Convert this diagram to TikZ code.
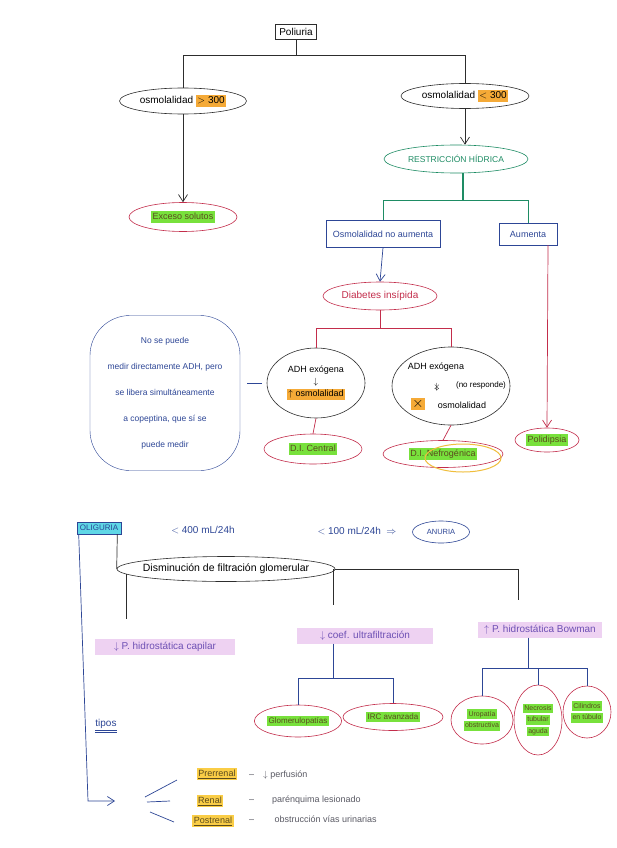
\documentclass[tikz,border=0pt]{standalone}
\usepackage{fontspec}
\setmainfont{Liberation Sans}
\usetikzlibrary{shapes.geometric,arrows.meta}
\definecolor{ink}{RGB}{45,45,45}
\definecolor{inkred}{RGB}{195,45,75}
\definecolor{inkteal}{RGB}{30,140,100}
\definecolor{inkblue}{RGB}{45,70,150}
\definecolor{hlgreen}{RGB}{120,225,60}
\definecolor{hlorange}{RGB}{245,170,55}
\definecolor{hlyellow}{RGB}{250,205,70}
\definecolor{hlpink}{RGB}{238,210,242}
\definecolor{hlcyan}{RGB}{95,215,230}
\definecolor{inkolive}{RGB}{90,75,30}
\definecolor{inkpurple}{RGB}{110,80,180}
\definecolor{inkgray}{RGB}{90,90,100}
\definecolor{ringorange}{RGB}{240,190,60}
\newcommand\hlc[2]{{\setlength{\fboxsep}{1.5pt}\colorbox{#1}{#2\vphantom{Ay}}}}
\begin{document}
\begin{tikzpicture}[x=1pt,y=-1pt,
  every node/.style={font=\fontsize{9}{11}\selectfont, inner sep=2pt},
  pen/.style={draw=ink, line width=0.7pt},
  oval/.style={ellipse, draw, line width=0.6pt, inner sep=0pt},
  arr/.style={-{Straight Barb[length=7pt,width=9pt]}},
  big/.style={font=\fontsize{10}{12}\selectfont},
  small/.style={font=\fontsize{8}{9.5}\selectfont},
  tiny/.style={font=\fontsize{7}{8.5}\selectfont},
  pinkhl/.style={text=inkpurple, fill=hlpink, inner sep=3pt, font=\fontsize{10}{12}\selectfont},
  greenoval/.style={oval, draw=inkred, text=inkolive},
  ]
\fill[white] (0,0) rectangle (616,848);
\useasboundingbox (0,0) rectangle (616,848);

% ---------- top part ----------
\node[draw=ink, line width=0.7pt, inner sep=4pt, big] (pol) at (296,32) {Poliuria};
\node[oval, draw=ink, big, minimum width=127, minimum height=26] (om1) at (183,101) {osmolalidad \hlc{hlorange}{$>$ 300}};
\node[oval, draw=ink, big, minimum width=128, minimum height=25] (om2) at (465,96) {osmolalidad \hlc{hlorange}{$<$ 300}};
\node[greenoval, minimum width=108, minimum height=29] (exc) at (183,217) {\hlc{hlgreen}{Exceso solutos}};
\node[oval, draw=inkteal, text=inkteal, minimum width=144, minimum height=28, font=\fontsize{8.5}{10}\selectfont] (rh) at (456,159) {RESTRICCIÓN HÍDRICA};
\node[draw=inkblue, text=inkblue, minimum width=114, minimum height=27] (onb) at (383,234) {Osmolalidad no aumenta};
\node[draw=inkblue, text=inkblue, minimum width=58, minimum height=22] (aum) at (528,234) {Aumenta};
\node[oval, draw=inkred, text=inkred, minimum width=114, minimum height=28, big] (di) at (380,296) {Diabetes insípida};

\node[oval, draw=ink, minimum width=98, minimum height=70, align=center] (adh1) at (316,383) {ADH exógena\\[1pt]$\downarrow$\\[1pt]\hlc{hlorange}{$\uparrow$ osmolalidad}};

\node[oval, draw=ink, minimum width=118, minimum height=78] (adh2) at (451,386) {};
\node (adh2t) at (436,367) {ADH exógena};
\node (adh2x) at (437,387) {\ooalign{$\downarrow$\cr\hidewidth$\times$\hidewidth\cr}};
\node[small] (adh2n) at (481,385) {(no responde)};
\node[fill=hlorange, inner sep=1pt] (adh2h) at (418,404) {\Large$\times$};
\node (adh2o) at (462,405) {osmolalidad};

\node[greenoval, minimum width=98, minimum height=30] (dic) at (313,449) {\hlc{hlgreen}{D.I. Central}};
\node[greenoval, minimum width=120, minimum height=27] (din) at (443,454) {\hlc{hlgreen}{D.I. Nefrogénica}};
\draw[ringorange, line width=1pt] (din.center) ++(20,4) ellipse [x radius=38pt, y radius=14pt];
\node[greenoval, minimum width=64, minimum height=24] (pold) at (547,440) {\hlc{hlgreen}{Polidipsia}};

\node[draw=inkblue, text=inkblue, rounded corners=40pt, minimum width=150, minimum height=155, align=center, font=\fontsize{8.5}{26}\selectfont] (note) at (165,393) {No se puede\\ medir directamente ADH, pero\\ se libera simultáneamente\\ a copeptina, que sí se\\ puede medir};

% connectors top
\draw[pen] (pol.south) -- ++(0,15) -| (om1.north);
\draw[pen] (pol.south) -- ++(0,15) -| (om2.north);
\draw[pen,arr] (om1.south) -- (exc.north);
\draw[pen,arr] (om2.south) -- (om2.south |- rh.north);
\draw[inkteal, line width=1.4pt] ([xshift=7pt]rh.south) -- ++(0,27);
\draw[inkteal, line width=0.7pt] ([xshift=7pt]rh.south) ++(0,27) -| (onb.north);
\draw[inkteal, line width=0.7pt] ([xshift=7pt]rh.south) ++(0,27) -| (aum.north);
\draw[inkblue, line width=0.7pt, arr] (onb.south) -- (di.north);
\draw[inkred, line width=0.7pt, arr] ([xshift=20pt]aum.south) -- (pold.north);
\draw[inkred, line width=0.7pt] (di.south) -- ++(0,18) -| (adh1.north);
\draw[inkred, line width=0.7pt] (di.south) -- ++(0,18) -| (adh2.north);
\draw[inkred, line width=0.7pt] (adh1.south) -- (dic.north);
\draw[inkred, line width=0.7pt] (adh2.south) -- (din.north);
\draw[inkblue, line width=0.7pt, shorten <=7pt, shorten >=5pt] (note.east |- adh1.west) -- (adh1.west);

% ---------- bottom part ----------
\node[draw=inkblue, fill=hlcyan, text=inkblue, font=\fontsize{8}{10}\selectfont, inner sep=3pt] (oli) at (99,528) {OLIGURIA};
\node[text=inkblue, big] (c400) at (203,530) {$<$ 400 mL/24h};
\node[text=inkblue, big] (c100) at (357,531) {$<$ 100 mL/24h \ $\Rightarrow$};
\node[oval, draw=inkblue, text=inkblue, minimum width=57, minimum height=22, font=\fontsize{7.5}{9}\selectfont] (anu) at (441,532) {ANURIA};
\node[oval, draw=ink, minimum width=218, minimum height=25, inner xsep=-25pt, font=\fontsize{10.5}{12}\selectfont] (dis) at (226,569) {Disminución de filtración glomerular};
\node[pinkhl, minimum width=140] (cap) at (165,647) {$\downarrow$ P. hidrostática capilar};
\node[pinkhl, minimum width=136] (coef) at (365,636) {$\downarrow$ coef. ultrafiltración};
\node[pinkhl, minimum width=124] (bow) at (540,630) {$\uparrow$ P. hidrostática Bowman};

\node[greenoval, small, minimum width=86, minimum height=32] (glo) at (298,721) {\hlc{hlgreen}{Glomerulopatías}};
\node[greenoval, small, minimum width=100, minimum height=27] (irc) at (393,717) {\hlc{hlgreen}{IRC avanzada}};
\node[greenoval, tiny, minimum width=62, minimum height=48, align=center] (uro) at (482,720) {\hlc{hlgreen}{Uropatía}\\[1pt]\hlc{hlgreen}{obstructiva}};
\node[greenoval, tiny, minimum width=48, minimum height=70, align=center] (nec) at (538,720) {\hlc{hlgreen}{Necrosis}\\[1pt]\hlc{hlgreen}{tubular}\\[1pt]\hlc{hlgreen}{aguda}};
\node[greenoval, tiny, minimum width=48, minimum height=52, align=center] (cil) at (587,712) {\hlc{hlgreen}{Cilindros}\\[1pt]\hlc{hlgreen}{en túbulo}};

\node[text=inkblue, big] (tip) at (106,726) {\underline{\underline{tipos}}};

\node[text=inkolive] (pre) at (217,774) {\hlc{hlyellow}{\underline{Prerrenal}}};
\node[text=inkgray, anchor=west] (pret) at (247,775) {--\quad $\downarrow$ perfusión};
\node[text=inkolive] (ren) at (210,801) {\hlc{hlyellow}{\underline{Renal}}};
\node[text=inkgray, anchor=west] (rent) at (247,800) {--\qquad parénquima lesionado};
\node[text=inkolive] (pos) at (213,821) {\hlc{hlyellow}{\underline{Postrenal}}};
\node[text=inkgray, anchor=west] (post) at (247,819) {--\qquad\ obstrucción vías urinarias};

% connectors bottom
\draw[pen] ([xshift=-4pt]oli.south east) -- (dis.west);
\draw[pen, shorten >=20pt] (dis.183) -- (dis.183 |- cap.north);
\draw[pen, shorten >=22pt] (dis.east) -| ([xshift=-22pt]bow.north);
\draw[pen, shorten >=23pt] ([xshift=-32pt]coef.north |- dis.east) -- ([xshift=-32pt]coef.north);
\draw[inkblue, line width=0.7pt] ([xshift=-32pt]coef.south) -- ++(0,34) -| (glo.north);
\draw[inkblue, line width=0.7pt] ([xshift=-32pt]coef.south) -- ++(0,34) -| (irc.north);
\draw[inkblue, line width=0.7pt] ([xshift=-12pt]bow.south) -- ++(0,30) -| (uro.north);
\draw[inkblue, line width=0.7pt] ([xshift=-12pt]bow.south) -- ++(0,30) -| (nec.north);
\draw[inkblue, line width=0.7pt] ([xshift=-12pt]bow.south) -- ++(0,30) -| (cil.north);

\coordinate (ocorner) at (88,801);
\coordinate (otip) at (115,801);
\draw[inkblue, line width=0.7pt, arr] ([xshift=2pt]oli.south west) -- (ocorner) -- (otip);
\coordinate (f1a) at (145,797); \coordinate (f1b) at (177,780);
\coordinate (f2a) at (147,802); \coordinate (f2b) at (170,801);
\coordinate (f3a) at (150,812); \coordinate (f3b) at (174,822);
\draw[inkblue, line width=0.7pt] (f1a) -- (f1b);
\draw[inkblue, line width=0.7pt] (f2a) -- (f2b);
\draw[inkblue, line width=0.7pt] (f3a) -- (f3b);
\end{tikzpicture}
\end{document}
